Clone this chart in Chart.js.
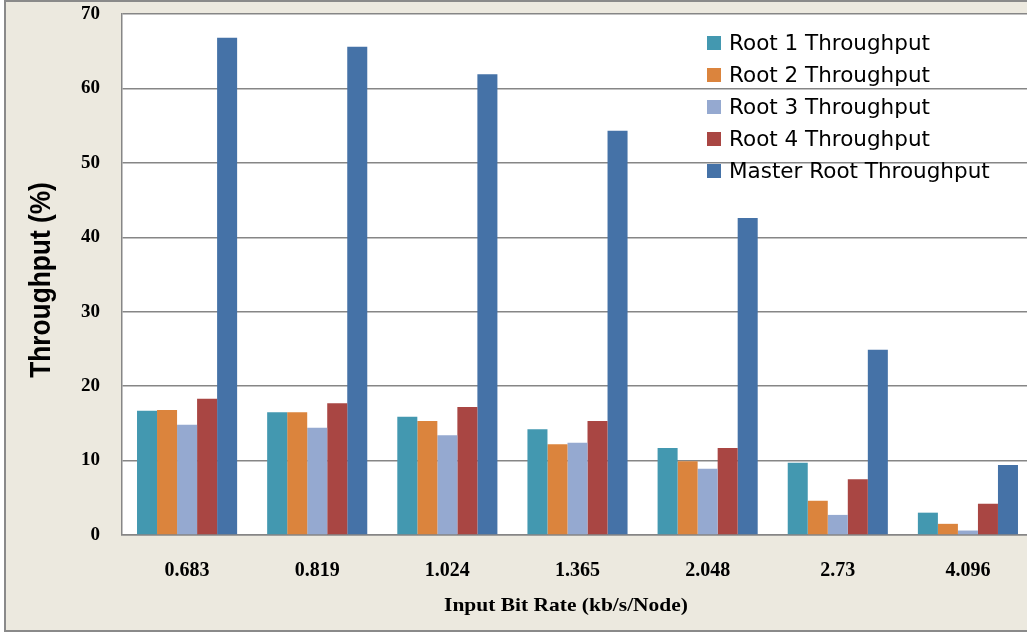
<!DOCTYPE html>
<html>
<head>
<meta charset="utf-8">
<title>Throughput vs Input Bit Rate</title>
<script src="https://cdn.jsdelivr.net/npm/chart.js@4/dist/chart.umd.min.js"></script>
<style>
  html, body { margin: 0; padding: 0; overflow: hidden; background: #ffffff; }
  #wrap { width: 1040px; height: 633px; }
</style>
</head>
<body>
<div id="wrap"><canvas id="chart" width="1040" height="633"></canvas></div>
<script>
// Input bit rates (kb/s/Node)
const categories = ['0.683', '0.819', '1.024', '1.365', '2.048', '2.73', '4.096'];

// Throughput (%) per root
const root1 = [16.7, 16.5, 15.9, 14.2, 11.7, 9.7, 3.0];
const root2 = [16.8, 16.5, 15.3, 12.2, 9.9, 4.6, 1.5];
const root3 = [14.8, 14.4, 13.4, 12.4, 8.9, 2.7, 0.6];
const root4 = [18.3, 17.7, 17.2, 15.3, 11.7, 7.5, 4.2];
const masterRoot = [66.8, 65.6, 61.9, 54.3, 42.6, 24.9, 9.4];

const seriesNames = ['Root 1 Throughput', 'Root 2 Throughput', 'Root 3 Throughput', 'Root 4 Throughput', 'Master Root Throughput'];
const seriesColors = ['#4398B0', '#DB843D', '#95A9D0', '#A94643', '#4572A7'];
const seriesValues = [root1, root2, root3, root4, masterRoot];

const yTicks = [0, 10, 20, 30, 40, 50, 60, 70];

const xTitle = 'Input Bit Rate (kb/s/Node)';
const yTitle = 'Throughput (%)';

const GRID = '#868686';
const serif = '"Liberation Serif", "Times New Roman", serif';

// Beige panel with a grey frame behind everything
const framePlugin = {
  id: 'frame',
  beforeDraw(chart) {
    const ctx = chart.ctx;
    ctx.save();
    ctx.fillStyle = '#ffffff';
    ctx.fillRect(0, 0, chart.width, chart.height);
    ctx.fillStyle = '#ECE9DF';
    ctx.fillRect(5, 1, chart.width - 5, chart.height - 3);
    ctx.strokeStyle = '#8a8a8a';
    ctx.lineWidth = 2;
    ctx.strokeRect(5, 1, chart.width + 10, chart.height - 3);
    // white plotting area
    const a = chart.chartArea;
    ctx.fillStyle = '#ffffff';
    ctx.fillRect(a.left, a.top, a.right - a.left, a.bottom - a.top);
    ctx.restore();
  }
};

// Axis titles, drawn slightly widened like the rest of the lettering
const axisTitles = {
  id: 'axisTitles',
  afterDraw(chart) {
    const ctx = chart.ctx;
    ctx.save();
    ctx.fillStyle = '#000000';
    ctx.textAlign = 'center';
    ctx.textBaseline = 'alphabetic';

    // horizontal axis title
    ctx.save();
    ctx.translate(566, 611);
    ctx.scale(1.13, 1);
    ctx.font = 'bold 19px ' + serif;
    ctx.fillText(xTitle, 0, 0);
    ctx.restore();

    // vertical axis title
    ctx.save();
    ctx.translate(50, 280);
    ctx.rotate(-Math.PI / 2);
    ctx.scale(1, 1.13);
    ctx.font = 'bold 26.3px "Liberation Sans", Arial, sans-serif';
    ctx.fillText(yTitle, 0, 0);
    ctx.restore();

    ctx.restore();
  }
};

// Legend drawn inside the plot, upper right, without a background
const innerLegend = {
  id: 'innerLegend',
  afterDraw(chart) {
    const ctx = chart.ctx;
    ctx.save();
    ctx.font = '21.5px "DejaVu Sans", sans-serif';
    ctx.textBaseline = 'middle';
    ctx.textAlign = 'left';
    chart.data.datasets.forEach((ds, i) => {
      const cy = 43 + i * 32;
      ctx.fillStyle = ds.backgroundColor;
      ctx.fillRect(707, cy - 7, 14, 14);
      ctx.fillStyle = '#000000';
      ctx.fillText(ds.label, 729, cy + 1);
    });
    ctx.restore();
  }
};

new Chart(document.getElementById('chart'), {
  type: 'bar',
  data: {
    labels: categories,
    datasets: seriesNames.map((name, i) => ({
      label: name,
      data: seriesValues[i],
      backgroundColor: seriesColors[i],
      borderWidth: 0,
      categoryPercentage: 100 / 130,
      barPercentage: 1.0
    }))
  },
  options: {
    responsive: false,
    animation: false,
    layout: { padding: { top: 14, right: 7, bottom: 0, left: 0 } },
    plugins: {
      legend: { display: false },
      tooltip: { enabled: false }
    },
    scales: {
      x: {
        grid: { display: false, drawTicks: false },
        border: { display: true, color: GRID, width: 1.5 },
        ticks: {
          color: '#000000',
          padding: 24,
          font: { family: serif, size: 20, weight: 'bold', lineHeight: 1.2 }
        },
        afterFit(scale) { scale.height = 98; }
      },
      y: {
        min: 0,
        max: 70,
        afterBuildTicks(scale) { scale.ticks = yTicks.map(v => ({ value: v })); },
        grid: { color: GRID, lineWidth: 1.5, drawTicks: true, tickLength: 22, tickColor: 'rgba(0,0,0,0)' },
        border: { display: true, color: GRID, width: 1.5 },
        ticks: {
          color: '#000000',
          padding: 0,
          font: { family: serif, size: 19, weight: 'bold', lineHeight: 1.2 }
        },
        afterFit(scale) { scale.width = 122; }
      }
    }
  },
  plugins: [framePlugin, axisTitles, innerLegend]
});
</script>
</body>
</html>
